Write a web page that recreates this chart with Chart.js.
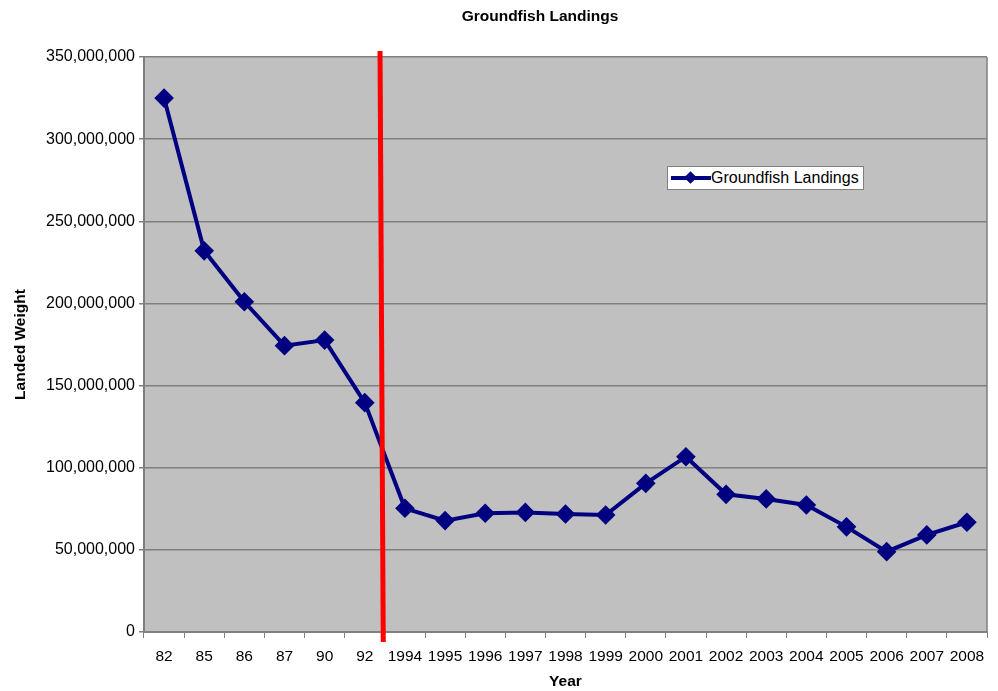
<!DOCTYPE html>
<html>
<head>
<meta charset="utf-8">
<script src="https://cdn.jsdelivr.net/npm/chart.js@4/dist/chart.umd.min.js"></script>
<style>
	html, body { margin: 0; padding: 0; background: #fff; }
	#wrap { position: relative; width: 998px; height: 691px; }
	#title {
		position: absolute; left: 440px; top: 7px; width: 200px; text-align: center;
		font: bold 15.5px "Liberation Sans", Arial, sans-serif; color: #000;
	}
	#legend {
		position: absolute; left: 667px; top: 166px; width: 197px; height: 24px;
		background: #fff; border: 1px solid #808080; box-sizing: border-box;
		font: 16px "Liberation Sans", Arial, sans-serif; color: #000;
		display: flex; align-items: center;
	}
	#legend .sym { position: relative; width: 40px; height: 20px; margin-left: 3px; }
	#legend .sym .ln { position: absolute; left: 0; top: 8px; width: 40px; height: 4px; background: #000080; }
	#legend .sym .dm { position: absolute; left: 15px; top: 5px; width: 9px; height: 9px; background: #000080; transform: rotate(45deg); }
</style>
</head>
<body>
<div id="wrap">
	<canvas id="chart" width="998" height="691"></canvas>
	<div id="title">Groundfish Landings</div>
	<div id="legend"><span class="sym"><span class="ln"></span><span class="dm"></span></span><span>Groundfish Landings</span></div>
</div>
<script>
const years = ["82", "85", "86", "87", "90", "92", "1994", "1995", "1996", "1997", "1998",
	"1999", "2000", "2001", "2002", "2003", "2004", "2005", "2006", "2007", "2008"];
const landings = [325000000, 232000000, 201000000, 174300000, 177700000, 139600000,
	75300000, 67800000, 72300000, 72800000, 71800000, 71200000, 90500000, 106700000,
	83800000, 81000000, 77300000, 64000000, 48900000, 59100000, 66800000];
const breakAfter = "92"; // red line between 92 and 1994

const font = "'Liberation Sans', Arial, sans-serif";

// gray plot background
const plotBg = {
	id: "plotBg",
	beforeDraw(chart) {
		const a = chart.chartArea, ctx = chart.ctx;
		ctx.save();
		ctx.fillStyle = "#c0c0c0";
		ctx.fillRect(a.left, a.top, a.right - a.left, a.bottom - a.top);
		ctx.restore();
	}
};

// red marker line after the break year
const redLine = {
	id: "redLine",
	afterDatasetsDraw(chart) {
		const x = chart.scales.x, a = chart.chartArea, ctx = chart.ctx;
		const i = years.indexOf(breakAfter);
		const step = x.getPixelForValue(i + 1) - x.getPixelForValue(i);
		const mid = (x.getPixelForValue(i) + x.getPixelForValue(i + 1)) / 2;
		ctx.save();
		ctx.strokeStyle = "#ff0000";
		ctx.lineWidth = 5;
		ctx.beginPath();
		ctx.moveTo(mid - step * 0.12, a.top - 6);
		ctx.lineTo(mid - step * 0.04, a.bottom + 10);
		ctx.stroke();
		ctx.restore();
	}
};

// right border of plot
const frame = {
	id: "frame",
	afterDraw(chart) {
		const a = chart.chartArea, ctx = chart.ctx;
		ctx.save();
		ctx.strokeStyle = "#808080";
		ctx.lineWidth = 1.5;
		ctx.beginPath();
		ctx.moveTo(a.right, a.top);
		ctx.lineTo(a.right, a.bottom);
		ctx.stroke();
		ctx.restore();
	}
};

new Chart(document.getElementById("chart"), {
	type: "line",
	data: {
		labels: years,
		datasets: [{
			label: "Groundfish Landings",
			data: landings,
			borderColor: "#000080",
			backgroundColor: "#000080",
			borderWidth: 4,
			pointStyle: "rectRot",
			pointRadius: 7,
			pointHoverRadius: 7,
			tension: 0
		}]
	},
	options: {
		responsive: false,
		animation: false,
		layout: { padding: { left: 0, right: 6, top: 57, bottom: 0 } },
		plugins: {
			legend: { display: false },
			tooltip: { enabled: false },
			title: { display: false }
		},
		scales: {
			x: {
				offset: true,
				grid: { display: true, drawOnChartArea: false, drawTicks: true, tickLength: 6, color: "#808080", offset: true },
				border: { color: "#808080", width: 2 },
				ticks: { color: "#000", font: { family: font, size: 15.5 }, padding: 9, maxRotation: 0, autoSkip: false },
				title: { display: true, text: "Year", color: "#000", font: { family: font, size: 15.5, weight: "bold" }, padding: { top: 4, bottom: 0 } },
				afterFit(s) { s.height = 59; }
			},
			y: {
				min: 0,
				max: 350000000,
				ticks: {
					stepSize: 50000000,
					color: "#000",
					font: { family: font, size: 16 },
					padding: 4,
					callback: v => v.toLocaleString("en-US")
				},
				grid: { color: "#808080", lineWidth: 1.5, tickLength: 5 },
				border: { color: "#808080", width: 2 },
				title: { display: true, text: "Landed Weight", color: "#000", font: { family: font, size: 15.5, weight: "bold" }, padding: { top: 11, bottom: 4 } },
				afterFit(s) { s.width = 144; }
			}
		}
	},
	plugins: [plotBg, redLine, frame]
});
</script>
</body>
</html>
